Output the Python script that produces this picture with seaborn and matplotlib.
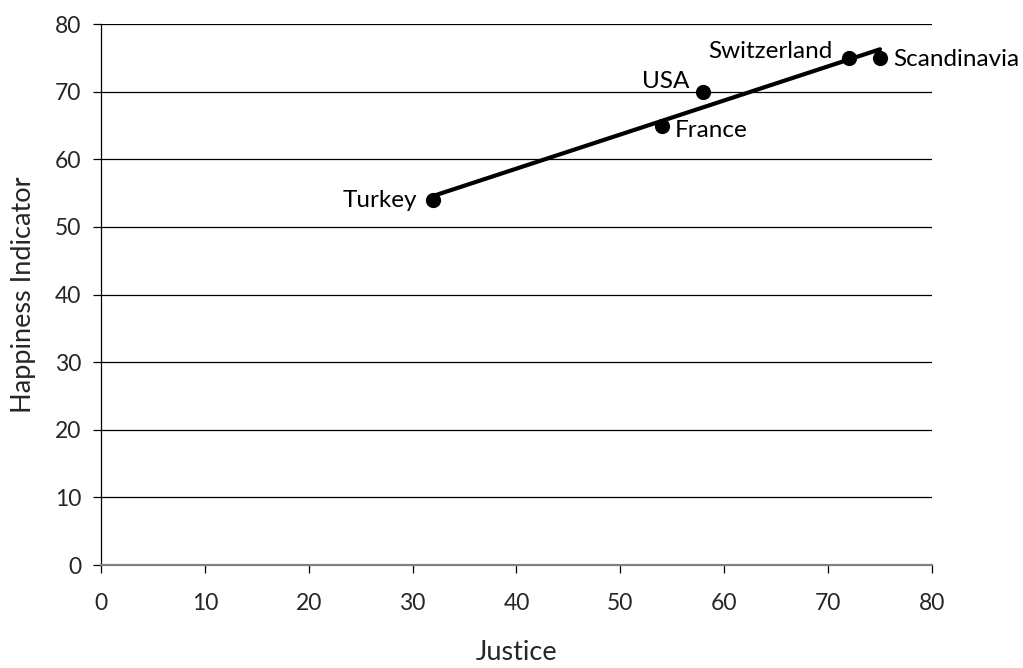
import matplotlib
matplotlib.use("Agg")
import matplotlib.pyplot as plt
import seaborn as sns
import pandas as pd

countries = ["Turkey", "France", "USA", "Switzerland", "Scandinavia"]
justice = [32, 54, 58, 72, 75]
happiness = [54, 65, 70, 75, 75]

df = pd.DataFrame({"Justice": justice, "Happiness Indicator": happiness, "Country": countries})

sns.set_theme(style="white")
plt.rcParams["font.family"] = ["Lato", "DejaVu Sans"]

fig = plt.figure(figsize=(10.23, 6.68), dpi=100)
ax = fig.add_axes([0.0987, 0.154, 0.8123, 0.810])

sns.regplot(data=df, x="Justice", y="Happiness Indicator", ci=None, ax=ax,
            scatter_kws=dict(s=120, color="black", alpha=1, zorder=4, linewidths=0),
            line_kws=dict(color="black", lw=3.0, zorder=3), truncate=True)

# Country annotations: (dx, dy) in points, horizontal alignment
offsets = {
    "Turkey": (-11.9, -5.0, "right"),
    "France": (9.4, -8.6, "left"),
    "USA": (-9.8, 2.9, "right"),
    "Switzerland": (-11.5, 0.0, "right"),
    "Scandinavia": (9.4, -6.0, "left"),
}
for c, x, y in zip(countries, justice, happiness):
    dx, dy, ha = offsets[c]
    ax.annotate(c, (x, y), xytext=(dx, dy), textcoords="offset points",
                ha=ha, va="baseline", fontsize=17.5, color="black")

ax.set_xlim(0, 80)
ax.set_ylim(0, 80)
ax.set_xticks(range(0, 81, 10))
ax.set_yticks(range(0, 81, 10))
ax.yaxis.grid(True, color="black", lw=0.9)
ax.xaxis.grid(False)
ax.set_axisbelow(True)

for s in ["top", "right"]:
    ax.spines[s].set_visible(False)
ax.spines["left"].set_color("black")
ax.spines["left"].set_linewidth(0.9)
ax.spines["bottom"].set_color("#808080")
ax.spines["bottom"].set_linewidth(1.6)

ax.tick_params(axis="both", which="major", direction="out", length=6, width=0.9,
               color="black", labelsize=16.5, bottom=True, left=True)
ax.tick_params(axis="x", pad=14)
ax.tick_params(axis="y", pad=8)

ax.set_xlabel("Justice", fontsize=19.5, labelpad=19)
ax.set_ylabel("Happiness Indicator", fontsize=19.5, labelpad=14)

fig.savefig("out.png", dpi=100)
